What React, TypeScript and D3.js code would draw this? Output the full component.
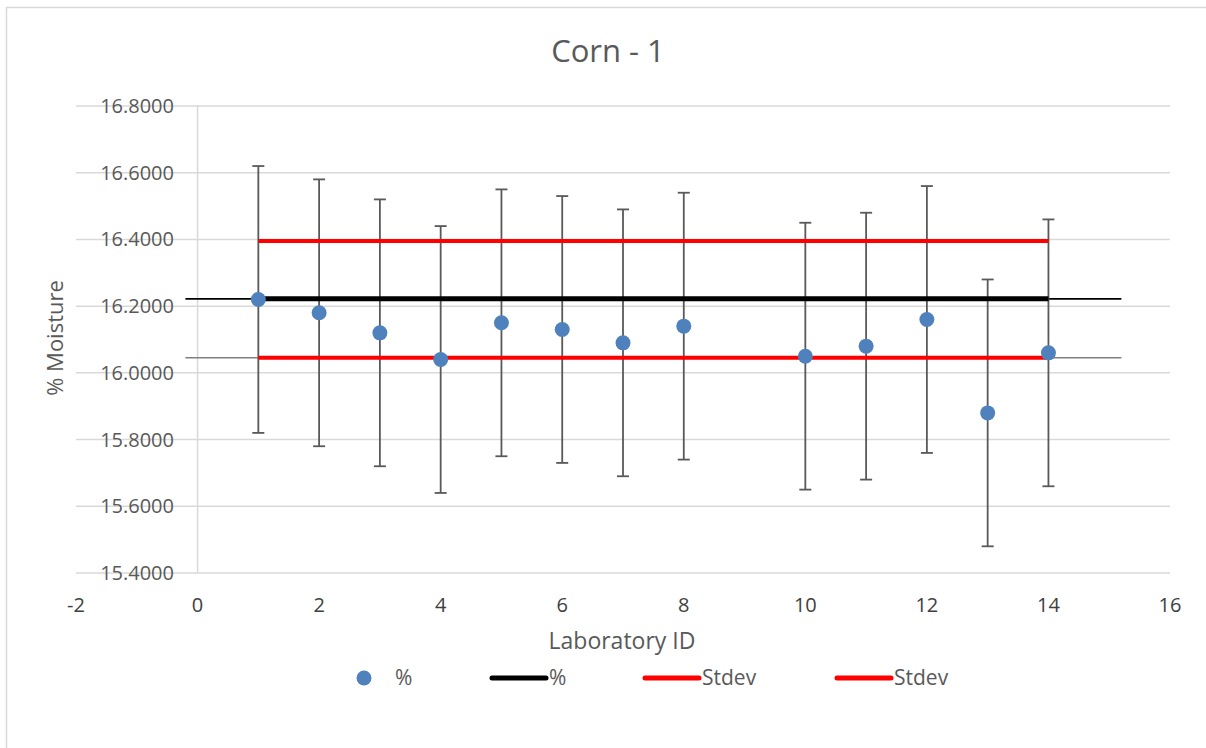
import { useMemo } from "react";
import { scaleLinear } from "d3";

const width = 1206;
const height = 748;
const margin = { left: 76, right: 36, top: 106, bottom: 175 };
const innerWidth = width - margin.left - margin.right;
const innerHeight = height - margin.top - margin.bottom;

const labIds = [1, 2, 3, 4, 5, 6, 7, 8, 10, 11, 12, 13, 14];
const moisture = [
  16.22, 16.18, 16.12, 16.04, 16.15, 16.13, 16.09, 16.14, 16.05, 16.08, 16.16,
  15.88, 16.06,
];
const errorSize = 0.4;
const meanValue = 16.222;
const stdevUpper = 16.395;
const stdevLower = 16.045;
const lineSpan = [1, 14];
const guideSpan = [-0.2, 15.2];
const xTicks = [-2, 0, 2, 4, 6, 8, 10, 12, 14, 16];
const yTicks = [15.4, 15.6, 15.8, 16.0, 16.2, 16.4, 16.6, 16.8];
const legendItems = [
  { label: "%", kind: "dot", color: "#4F81BD" },
  { label: "%", kind: "line", color: "#000000" },
  { label: "Stdev", kind: "line", color: "#FF0000" },
  { label: "Stdev", kind: "line", color: "#FF0000" },
];

const font = "'Open Sans', 'Noto Sans', sans-serif";

export default function App() {
  const { xScale, yScale } = useMemo(() => {
    const xScale = scaleLinear().domain([-2, 16]).range([0, innerWidth]);
    const yScale = scaleLinear().domain([15.4, 16.8]).range([innerHeight, 0]);
    return { xScale, yScale };
  }, []);

  const legendX = [364, 492, 645, 837];

  return (
    <svg
      width={width}
      height={height}
      style={{ position: "absolute", left: 0, top: 0, background: "white" }}
    >
      <rect x={6.5} y={7.5} width={1300} height={800} fill="white" stroke="#d9d9d9" strokeWidth={1.5} />
      <text x={608} y={62} textAnchor="middle" fontFamily={font} fontSize={31} fill="#595959">
        Corn - 1
      </text>
      <g transform={`translate(${margin.left},${margin.top})`}>
        {yTicks.map((t) => (
          <line key={t} x1={0} x2={innerWidth} y1={yScale(t)} y2={yScale(t)} stroke="#d9d9d9" strokeWidth={1.5} />
        ))}
        <line x1={xScale(0)} x2={xScale(0)} y1={0} y2={innerHeight} stroke="#d9d9d9" strokeWidth={1.5} />
        {yTicks.map((t) => (
          <text key={t} x={98} y={yScale(t)} dy="0.35em" textAnchor="end" fontFamily={font} fontSize={20} fill="#595959">
            {t.toFixed(4)}
          </text>
        ))}
        {xTicks.map((t) => (
          <text key={t} x={xScale(t)} y={innerHeight + 39} textAnchor="middle" fontFamily={font} fontSize={20} fill="#404040">
            {t}
          </text>
        ))}
        {/* thin guide lines */}
        <line x1={xScale(guideSpan[0])} x2={xScale(guideSpan[1])} y1={yScale(meanValue)} y2={yScale(meanValue)} stroke="#000" strokeWidth={1.8} />
        <line x1={xScale(guideSpan[0])} x2={xScale(guideSpan[1])} y1={yScale(stdevLower)} y2={yScale(stdevLower)} stroke="#808080" strokeWidth={1.5} />
        {/* error bars */}
        {labIds.map((id, i) => {
          const x = xScale(id);
          const y1 = yScale(moisture[i] + errorSize);
          const y2 = yScale(moisture[i] - errorSize);
          return (
            <g key={id} stroke="#595959" strokeWidth={1.8}>
              <line x1={x} x2={x} y1={y1} y2={y2} />
              <line x1={x - 6} x2={x + 6} y1={y1} y2={y1} />
              <line x1={x - 6} x2={x + 6} y1={y2} y2={y2} />
            </g>
          );
        })}
        <line x1={xScale(lineSpan[0])} x2={xScale(lineSpan[1])} y1={yScale(meanValue)} y2={yScale(meanValue)} stroke="#000" strokeWidth={5} />
        <line x1={xScale(lineSpan[0])} x2={xScale(lineSpan[1])} y1={yScale(stdevUpper)} y2={yScale(stdevUpper)} stroke="#FF0000" strokeWidth={4} />
        <line x1={xScale(lineSpan[0])} x2={xScale(lineSpan[1])} y1={yScale(stdevLower)} y2={yScale(stdevLower)} stroke="#FF0000" strokeWidth={4} />
        {labIds.map((id, i) => (
          <circle key={id} cx={xScale(id)} cy={yScale(moisture[i])} r={7.5} fill="#4F81BD" />
        ))}
      </g>
      <text x={622} y={649} textAnchor="middle" fontFamily={font} fontSize={23} fill="#595959">
        Laboratory ID
      </text>
      <text transform="translate(63,338) rotate(-90)" textAnchor="middle" fontFamily={font} fontSize={22} fill="#595959">
        % Moisture
      </text>
      {legendItems.map((item, i) => {
        const x = legendX[i];
        const y = 678;
        return (
          <g key={i}>
            {item.kind === "dot" ? (
              <circle cx={x} cy={y} r={7.5} fill={item.color} />
            ) : (
              <line x1={x} x2={x + 54} y1={y} y2={y} stroke={item.color} strokeWidth={5} strokeLinecap="round" />
            )}
            <text x={item.kind === "dot" ? x + 31 : x + 57} y={y} dy="0.35em" fontFamily={font} fontSize={21} fill="#595959">
              {item.label}
            </text>
          </g>
        );
      })}
    </svg>
  );
}
